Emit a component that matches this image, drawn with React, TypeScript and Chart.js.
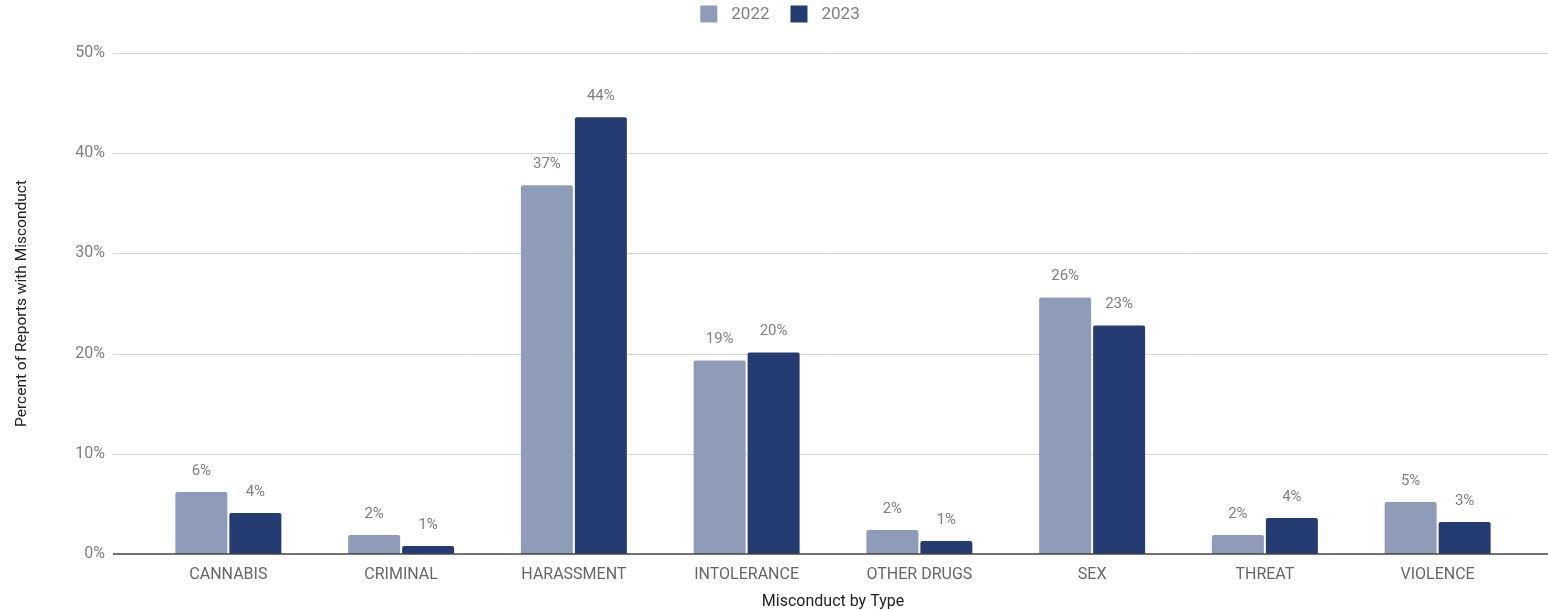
import React, { useEffect, useRef } from "react";
import { Chart, registerables } from "chart.js";

Chart.register(...registerables);

const categories = ["CANNABIS", "CRIMINAL", "HARASSMENT", "INTOLERANCE", "OTHER DRUGS", "SEX", "THREAT", "VIOLENCE"];
const seriesLabels = ["2022", "2023"];
const values2022 = [6.2, 1.9, 36.8, 19.3, 2.4, 25.6, 1.9, 5.2];
const values2023 = [4.1, 0.8, 43.6, 20.1, 1.3, 22.8, 3.6, 3.2];
const yTickValues = [0, 10, 20, 30, 40, 50];

const COLOR_2022 = "#8f9cb9";
const COLOR_2023 = "#253c73";
const FONT = "Roboto, 'Noto Sans', sans-serif";

const gridPlugin = {
  id: "extGrid",
  beforeDatasetsDraw(chart: any) {
    const ctx = chart.ctx;
    const y = chart.scales.y;
    ctx.save();
    ctx.strokeStyle = "#d6d6d6";
    ctx.lineWidth = 1;
    for (const t of y.ticks) {
      if (t.value === 0) continue;
      const py = Math.round(y.getPixelForValue(t.value)) + 0.5;
      ctx.beginPath();
      ctx.moveTo(113, py);
      ctx.lineTo(chart.width, py);
      ctx.stroke();
    }
    ctx.restore();
  },
  afterDatasetsDraw(chart: any) {
    const ctx = chart.ctx;
    const y = chart.scales.y;
    ctx.save();
    ctx.strokeStyle = "#444";
    ctx.lineWidth = 1.5;
    const py = y.getPixelForValue(0);
    ctx.beginPath();
    ctx.moveTo(113, py);
    ctx.lineTo(chart.width, py);
    ctx.stroke();
    // value labels
    ctx.fillStyle = "#808080";
    ctx.font = `15px ${FONT}`;
    ctx.textAlign = "center";
    ctx.textBaseline = "middle";
    chart.data.datasets.forEach((ds: any, i: number) => {
      const meta = chart.getDatasetMeta(i);
      meta.data.forEach((el: any, j: number) => {
        ctx.fillText(Math.round(ds.data[j]) + "%", el.x, el.y - 21);
      });
    });
    ctx.restore();
  },
  afterDraw(chart: any) {
    const ctx = chart.ctx;
    ctx.save();
    ctx.font = `17px ${FONT}`;
    ctx.textBaseline = "middle";
    const box = 17, gap = 14, between = 21;
    const items = chart.data.datasets.map((ds: any) => ({
      label: ds.label,
      color: ds.backgroundColor,
      w: ctx.measureText(ds.label).width,
    }));
    const total = items.reduce((s: number, it: any) => s + box + gap + it.w, 0) + between * (items.length - 1);
    let x = 780 - total / 2;
    const cy = 14;
    for (const it of items) {
      ctx.fillStyle = it.color;
      ctx.fillRect(x, cy - box / 2, box, box);
      x += box + gap;
      ctx.fillStyle = "#808080";
      ctx.textAlign = "left";
      ctx.fillText(it.label, x, cy + 1);
      x += it.w + between;
    }
    ctx.restore();
  },
};

export default function App() {
  const ref = useRef<HTMLCanvasElement>(null);
  useEffect(() => {
    if (!ref.current) return;
    const chart = new Chart(ref.current, {
      type: "bar",
      data: {
        labels: categories,
        datasets: [
          {
            label: seriesLabels[0],
            data: values2022,
            backgroundColor: COLOR_2022,
            borderRadius: 2,
            categoryPercentage: 0.625,
            barPercentage: 0.963,
          },
          {
            label: seriesLabels[1],
            data: values2023,
            backgroundColor: COLOR_2023,
            borderRadius: 2,
            categoryPercentage: 0.625,
            barPercentage: 0.963,
          },
        ],
      },
      options: {
        responsive: false,
        animation: false,
        layout: { padding: { top: 53, right: 24, left: 0, bottom: 0 } },
        plugins: {
          legend: { display: false },
          tooltip: { enabled: false },
        },
        scales: {
          x: {
            grid: { display: false, drawTicks: false },
            border: { display: false },
            ticks: { color: "#666", font: { family: FONT, size: 16 }, padding: 11, maxRotation: 0, autoSkip: false },
            title: {
              display: true,
              text: "Misconduct by Type",
              color: "#222",
              font: { family: FONT, size: 16, lineHeight: 1.05 },
              padding: { top: 0, bottom: 0 },
            },
            afterFit: (s: any) => {
              s.height = 56;
            },
          },
          y: {
            min: 0,
            max: 50,
            afterBuildTicks: (s: any) => {
              s.ticks = yTickValues.map((v) => ({ value: v }));
            },
            grid: { display: false, drawTicks: false },
            border: { display: false },
            ticks: {
              color: "#808080",
              font: { family: FONT, size: 16 },
              padding: 37,
              callback: (v: any) => v + "%",
            },
            title: {
              display: true,
              text: "Percent of Reports with Misconduct",
              color: "#222",
              font: { family: FONT, size: 15.5 },
              padding: { top: 13, bottom: 4 },
            },
            afterFit: (s: any) => {
              s.width = 142;
            },
          },
        },
      },
      plugins: [gridPlugin],
    });
    return () => chart.destroy();
  }, []);
  return (
    <div style={{ position: "fixed", left: 0, top: 0, width: 1548, height: 610, background: "#fff" }}>
      <canvas ref={ref} width={1548} height={610} />
    </div>
  );
}
